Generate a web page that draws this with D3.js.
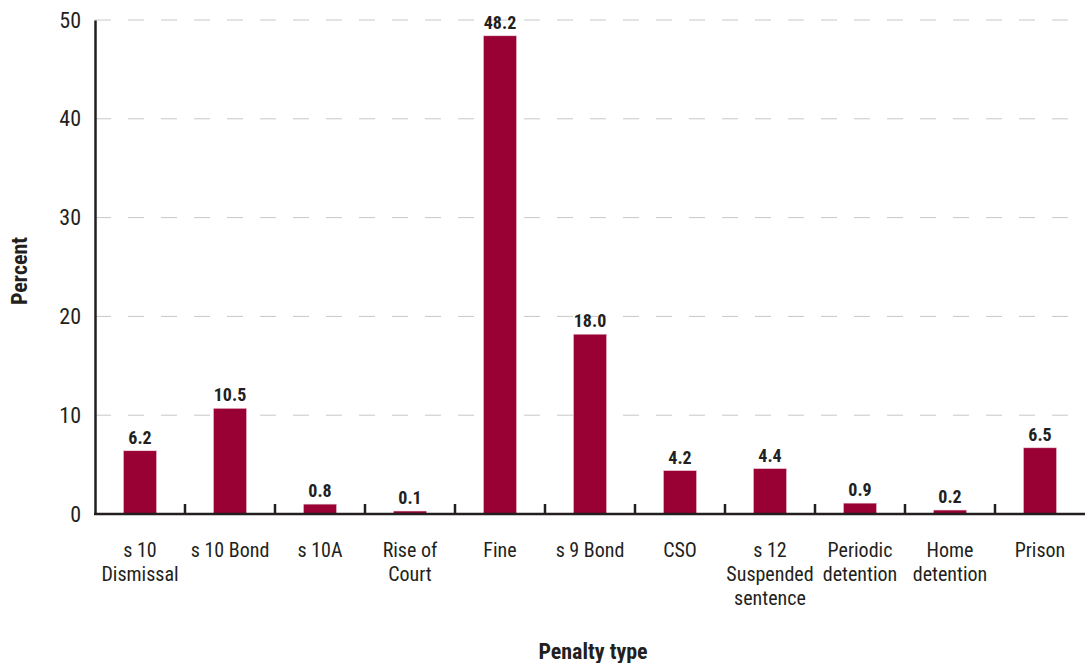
<!DOCTYPE html>
<html>
<head>
<meta charset="utf-8">
<script src="https://cdn.jsdelivr.net/npm/d3@7"></script>
<style>
  body { margin: 0; background: #fff; }
  text { font-family: "Liberation Sans Narrow", "Arial Narrow", "Roboto Condensed", sans-serif; fill: #231f20; }
</style>
</head>
<body>
<div id="chart"></div>
<script>
///////////////////// Data ////////////////////////
var categories = ["s 10|Dismissal", "s 10 Bond", "s 10A", "Rise of|Court", "Fine", "s 9 Bond",
                  "CSO", "s 12|Suspended|sentence", "Periodic|detention", "Home|detention", "Prison"];
var percents = [6.2, 10.5, 0.8, 0.1, 48.2, 18.0, 4.2, 4.4, 0.9, 0.2, 6.5];
var yTicks = [0, 10, 20, 30, 40, 50];
//////////////////////////////////////////////////

var width = 1086, height = 663;
var margin = {top: 20, right: 1, bottom: 149, left: 95};

var svg = d3.select("#chart").append("svg")
    .attr("width", width)
    .attr("height", height);

var x = d3.scaleBand()
    .domain(categories)
    .range([margin.left, width - margin.right])
    .paddingInner(0.63)
    .paddingOuter(0.315);

var y = d3.scaleLinear()
    .domain([0, 50])
    .range([height - margin.bottom, margin.top]);

// dashed gridlines
svg.append("g").selectAll("line")
    .data(yTicks.filter(function (d) { return d > 0; }))
    .enter().append("line")
    .attr("x1", margin.left)
    .attr("x2", width - margin.right)
    .attr("y1", function (d) { return y(d); })
    .attr("y2", function (d) { return y(d); })
    .style("stroke", "#c8c8c8")
    .style("stroke-width", 1)
    .style("stroke-dasharray", "16,17");

// bars
svg.append("g").selectAll("rect")
    .data(percents)
    .enter().append("rect")
    .attr("x", function (d, i) { return x(categories[i]); })
    .attr("width", x.bandwidth())
    .attr("y", function (d) { return y(d) - 2; })
    .attr("height", function (d) { return y(0) - y(d) + 2; })
    .style("fill", "#990033")
    .style("stroke", "#f3d9e0")
    .style("stroke-width", 0.6);

// value labels
svg.append("g").selectAll("text")
    .data(percents)
    .enter().append("text")
    .attr("x", function (d, i) { return x(categories[i]) + x.bandwidth() / 2; })
    .attr("y", function (d) { return y(d) - 9; })
    .attr("text-anchor", "middle")
    .style("font-size", "18px")
    .style("font-weight", "bold")
    .text(function (d) { return d.toFixed(1); });

// y axis
var yAxis = svg.append("g")
    .attr("transform", "translate(" + margin.left + ",0)")
    .call(d3.axisLeft(y).tickValues(yTicks).tickSize(0).tickPadding(14));
yAxis.select(".domain").style("stroke", "#231f20").style("stroke-width", 2.5);
yAxis.selectAll("text").style("font-size", "22px").attr("font-family", null);

// x axis line + ticks between categories
var xAxisG = svg.append("g");
xAxisG.append("line")
    .attr("x1", margin.left - 1)
    .attr("x2", width - margin.right)
    .attr("y1", y(0))
    .attr("y2", y(0))
    .style("stroke", "#231f20")
    .style("stroke-width", 2.5);

var step = x.step();
xAxisG.selectAll(".sep")
    .data(categories.slice(1))
    .enter().append("line")
    .attr("class", "sep")
    .attr("x1", function (d) { return x(d) - step * x.paddingInner() / 2; })
    .attr("x2", function (d) { return x(d) - step * x.paddingInner() / 2; })
    .attr("y1", y(0))
    .attr("y2", y(0) - 10)
    .style("stroke", "#231f20")
    .style("stroke-width", 2.5);

// category labels (multi-line)
var catLabels = xAxisG.selectAll(".cat")
    .data(categories)
    .enter().append("text")
    .attr("class", "cat")
    .attr("text-anchor", "middle")
    .style("font-size", "20px");
catLabels.each(function (d) {
    var t = d3.select(this);
    var cx = x(d) + x.bandwidth() / 2;
    d.split("|").forEach(function (line, i) {
        t.append("tspan")
            .attr("x", cx)
            .attr("y", y(0) + 43 + i * 24)
            .text(line);
    });
});

// axis titles
svg.append("text")
    .attr("x", 593)
    .attr("y", 659)
    .attr("text-anchor", "middle")
    .style("font-size", "22px")
    .style("font-weight", "bold")
    .text("Penalty type");

svg.append("text")
    .attr("transform", "translate(27,271) rotate(-90)")
    .attr("text-anchor", "middle")
    .style("font-size", "22px")
    .style("font-weight", "bold")
    .text("Percent");
</script>
</body>
</html>
